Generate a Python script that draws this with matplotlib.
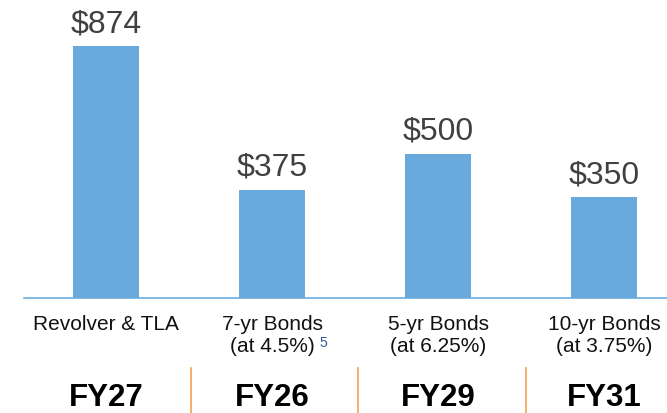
import matplotlib
matplotlib.use("Agg")
import matplotlib.pyplot as plt
import matplotlib.transforms as mtransforms

values = [874, 375, 500, 350]
value_labels = ["$874", "$375", "$500", "$350"]
line1 = ["Revolver & TLA", "7-yr Bonds", "5-yr Bonds", "10-yr Bonds"]
line2 = ["", "(at 4.5%)", "(at 6.25%)", "(at 3.75%)"]
fy_labels = ["FY27", "FY26", "FY29", "FY31"]

plt.rcParams['font.family'] = ['Liberation Sans', 'DejaVu Sans']

W, H = 667, 413
fig = plt.figure(figsize=(W / 100, H / 100), dpi=100)
ax = fig.add_axes([0, 0, 1, 1])
ax.set_axis_off()

px_per_unit_x = 166.0
x0_px = 106.0
ax.set_xlim(-x0_px / px_per_unit_x, (W - x0_px) / px_per_unit_x)
base_px = 298.0
units_per_px = 874 / 252.0
ax.set_ylim(-(H - base_px) * units_per_px, base_px * units_per_px)

xs = list(range(len(values)))
bar_color = "#6AA9DC"
ax.bar(xs, values, width=66 / px_per_unit_x, color=bar_color, zorder=2)

# baseline
ax.axhline(0, xmin=24 / W, xmax=1.0, color="#6AAEE0", lw=1.2, zorder=1)

for x, v, lab in zip(xs, values, value_labels):
    ax.annotate(lab, (x, v), xytext=(0, 5), textcoords="offset points",
                ha="center", va="bottom", fontsize=23, color="#404040")

trans = mtransforms.blended_transform_factory(ax.transData, ax.transAxes)

def yfrac(px):
    return 1 - px / H

for x, l1, l2, fy in zip(xs, line1, line2, fy_labels):
    ax.text(x, yfrac(324), l1, transform=trans, ha="center", va="center",
            fontsize=15, color="#111111")
    if l2:
        ax.text(x, yfrac(347), l2, transform=trans, ha="center", va="center",
                fontsize=15, color="#111111")
    ax.text(x, yfrac(398), fy, transform=trans, ha="center", va="center",
            fontsize=22.5, fontweight="bold", color="black")

# footnote superscript
ax.text(1 + (323 - 272) / px_per_unit_x, yfrac(343), "5", transform=trans,
        ha="center", va="center", fontsize=10, color="#2F5597")

# orange separators
for sx in [0.51, 1.52, 2.53]:
    ax.plot([sx, sx], [yfrac(368), yfrac(413)], transform=trans,
            color="#F4A34A", lw=1.2, clip_on=False)

fig.savefig("out.png", dpi=100)
